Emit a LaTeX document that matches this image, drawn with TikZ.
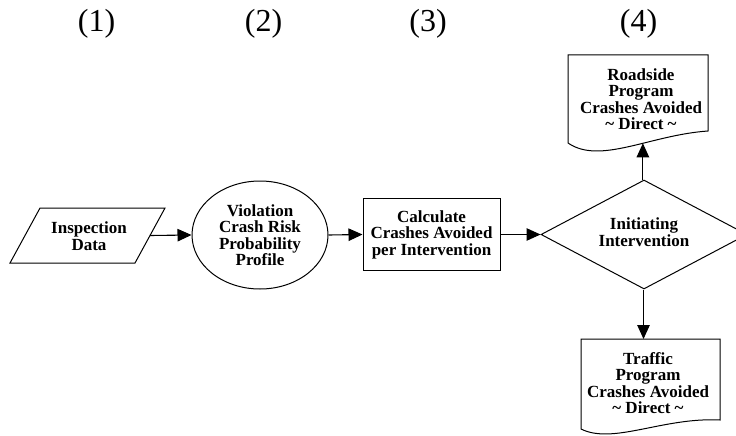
\documentclass[tikz,border=0pt]{standalone}
\usepackage{fontspec}
\setmainfont{Liberation Serif}
\usetikzlibrary{shapes.geometric,arrows.meta}
\begin{document}
\begin{tikzpicture}[x=1pt,y=-1pt,
  lbl/.style={font=\fontsize{17}{16.5}\selectfont\bfseries, align=center, inner sep=0pt},
  hdr/.style={font=\fontsize{32}{34}\selectfont, anchor=base, inner sep=0pt},
  shp/.style={draw=black, line width=1pt},
  flow/.style={draw=black, line width=1.1pt, -{Triangle[length=14pt,width=12.5pt]}}]
\useasboundingbox (0,0) rectangle (736,436);
\clip (0,0) rectangle (736,436);

% column numbers
\node[hdr] (h1) at (96.5,32) {(1)};
\node[hdr] (h2) at (263.5,32) {(2)};
\node[hdr] (h3) at (428,32) {(3)};
\node[hdr] (h4) at (638.5,32) {(4)};

% input data (parallelogram)
\draw[shp] (10,263) -- (40,208) -- (165,208) -- (135,263) -- cycle;
\coordinate (insp-e) at (150,235.5);
\node[lbl] (insp) at (89,236) {Inspection\\Data};

% risk profile
\node[shp, lbl, ellipse, minimum width=136pt, minimum height=108pt] (risk) at (260,235)
  {Violation\\Crash Risk\\Probability\\Profile};

% calculation step
\node[shp, lbl, rectangle, minimum width=137pt, minimum height=72pt] (calc) at (431.5,234.5)
  {Calculate\\Crashes Avoided\\per Intervention};

% decision: outline and its text
\node[shp, diamond, inner sep=0pt, minimum width=206pt, minimum height=109pt] (dec) at (644,234.5) {};
\node[lbl] (dec-t) at (644,232) {Initiating\\Intervention};

% output documents
\draw[shp] (568,55) -- (708,55) -- (708,131)
  .. controls (650,135) and (600,165) .. (568,143) coordinate[pos=0.4] (rs-b) -- cycle;
\node[lbl] (rs) at (641,99) {Roadside\\Program\\Crashes Avoided\\\textasciitilde{} Direct \textasciitilde};

\draw[shp] (581,339) -- (720,339) -- (720,420)
  .. controls (663,417) and (613,445) .. (581,429) -- cycle;
\coordinate (tr-t) at (643.5,339);
\node[lbl] (tr) at (648,383) {Traffic\\Program\\Crashes Avoided\\\textasciitilde{} Direct \textasciitilde};

% connectors
\draw[flow] (insp-e) -- (risk.west);
\draw[flow] (risk.east) -- (calc.west);
\draw[flow] (calc.east) -- (dec.west);
\draw[flow] (dec.north -| rs-b) -- (rs-b);
\draw[flow] (dec.south -| tr-t) -- (tr-t);
\end{tikzpicture}
\end{document}
